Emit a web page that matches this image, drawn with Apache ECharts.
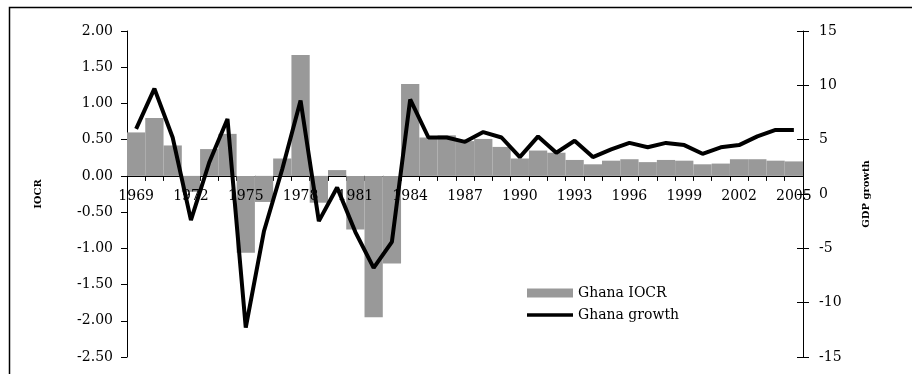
<!DOCTYPE html>
<html>
<head>
<meta charset="utf-8">
<script src="https://cdn.jsdelivr.net/npm/echarts@6/dist/echarts.min.js"></script>
<style>html,body{margin:0;padding:0;background:#fff}#c{width:912px;height:374px}</style>
</head>
<body>
<div id="c"></div>
<script>
const years = ['1969','1970','1971','1972','1973','1974','1975','1976','1977','1978','1979','1980','1981','1982','1983','1984','1985','1986','1987','1988','1989','1990','1991','1992','1993','1994','1995','1996','1997','1998','1999','2000','2001','2002','2003','2004','2005'];
const iocr = [0.60,0.80,0.42,-0.22,0.37,0.58,-1.06,-0.36,0.24,1.67,-0.37,0.08,-0.74,-1.95,-1.21,1.27,0.53,0.56,0.48,0.51,0.40,0.24,0.35,0.32,0.22,0.16,0.21,0.23,0.19,0.22,0.21,0.16,0.17,0.23,0.23,0.21,0.20];
const growth = [6.0,9.7,5.2,-2.4,2.9,6.9,-12.3,-3.4,2.3,8.6,-2.5,0.6,-3.5,-6.8,-4.4,8.7,5.2,5.2,4.8,5.7,5.2,3.4,5.3,3.8,4.9,3.4,4.1,4.7,4.3,4.7,4.5,3.7,4.3,4.5,5.3,5.9,5.9];
const leftTicks = {min:-2.5, max:2.0, interval:0.5};
const rightTicks = {min:-15, max:15, interval:5};

const font = 'DejaVu Serif';
const gridTop = 31, gridBottom = 17, H = 374;
const plotH = H - gridTop - gridBottom;
const zeroY = gridTop + plotH * (leftTicks.max - 0) / (leftTicks.max - leftTicks.min);
const labelOffset = -((H - gridBottom) - zeroY);

const chart = echarts.init(document.getElementById('c'));
chart.setOption({
  animation:false,
  backgroundColor:'#fff',
  textStyle:{fontFamily:font},
  grid:{left:127, right:109, top:gridTop, bottom:gridBottom, containLabel:false, outerBoundsMode:'none'},
  legend:[
    {left:522, top:281, itemWidth:46, itemHeight:9,
     textStyle:{fontFamily:font, fontSize:14, color:'#000'},
     data:[{name:'Ghana IOCR', icon:'rect'}]},
    {left:522, top:303, itemWidth:46, itemHeight:3.5,
     textStyle:{fontFamily:font, fontSize:14, color:'#000'},
     data:[{name:'Ghana growth', icon:'rect', itemStyle:{color:'#000'}}]}
  ],
  xAxis:[
    {type:'category', data:years, boundaryGap:true,
     axisLine:{onZero:true, onZeroAxisIndex:0, lineStyle:{color:'#000', width:1}},
     axisTick:{show:true, interval:0, length:5, lineStyle:{color:'#000'}},
     axisLabel:{show:false},
     splitLine:{show:false}},
    {type:'category', data:years, boundaryGap:true, position:'bottom', offset:labelOffset, z:20,
     axisLine:{show:false, onZero:false}, axisTick:{show:false},
     axisLabel:{interval:2, color:'#000', fontFamily:font, fontSize:14, margin:13},
     splitLine:{show:false}}
  ],
  yAxis:[
    {type:'value', position:'left', min:leftTicks.min, max:leftTicks.max, interval:leftTicks.interval,
     name:'IOCR', nameLocation:'middle', nameGap:84, nameRotate:90,
     nameTextStyle:{fontFamily:font, fontSize:10, fontWeight:'bold', color:'#000'},
     axisLine:{show:true, lineStyle:{color:'#000'}},
     axisTick:{show:true, length:6, lineStyle:{color:'#000'}},
     axisLabel:{color:'#000', fontFamily:font, fontSize:14, margin:14, formatter:v=>v.toFixed(2)},
     splitLine:{show:false}},
    {type:'value', position:'right', min:rightTicks.min, max:rightTicks.max, interval:rightTicks.interval,
     name:'GDP growth', nameLocation:'middle', nameGap:58, nameRotate:90,
     nameTextStyle:{fontFamily:font, fontSize:10, fontWeight:'bold', color:'#000'},
     axisLine:{show:true, lineStyle:{color:'#000'}},
     axisTick:{show:true, length:6, lineStyle:{color:'#000'}},
     axisLabel:{color:'#000', fontFamily:font, fontSize:14, margin:16},
     splitLine:{show:false}},
    {type:'value', position:'right', min:rightTicks.min, max:rightTicks.max, interval:rightTicks.interval,
     axisLine:{show:false},
     axisTick:{show:true, inside:true, length:6, lineStyle:{color:'#000'}},
     axisLabel:{show:false}, splitLine:{show:false}}
  ],
  series:[
    {name:'Ghana IOCR', type:'bar', xAxisIndex:0, yAxisIndex:0, data:iocr, barCategoryGap:'0%',
     itemStyle:{color:'#999999'}},
    {name:'Ghana growth', type:'line', xAxisIndex:0, yAxisIndex:1, data:growth, symbol:'none', z:30,
     lineStyle:{color:'#000', width:4}, itemStyle:{color:'#000'}}
  ],
  graphic:[{type:'rect', silent:true, shape:{x:9.5, y:7.5, width:1000, height:1000},
    style:{fill:'none', stroke:'#000', lineWidth:1.5}}]
});
</script>
</body>
</html>
